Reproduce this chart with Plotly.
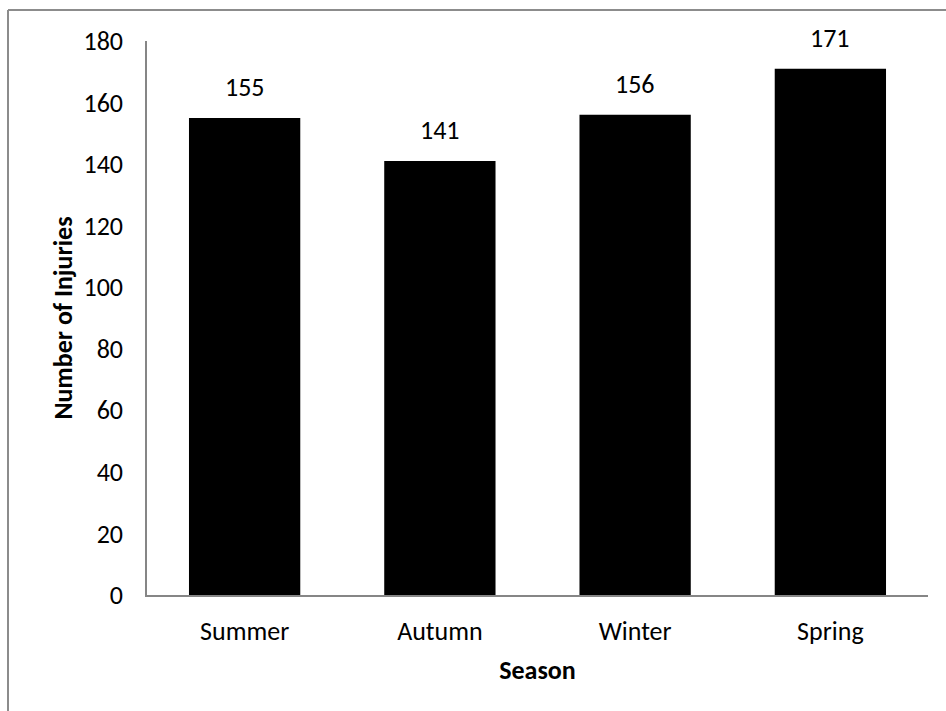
import plotly.graph_objects as go

seasons = ["Summer", "Autumn", "Winter", "Spring"]
injuries = [155, 141, 156, 171]
y_ticks = [0, 20, 40, 60, 80, 100, 120, 140, 160, 180]

FONT = "Calibri, Carlito, Lato, 'Open Sans', sans-serif"
AXIS_GREY = "#868686"
SIZE = 26

fig = go.Figure(
    go.Bar(
        x=seasons,
        y=injuries,
        marker=dict(color="#000000", line=dict(width=0)),
        width=0.57,
        hoverinfo="x+y",
    )
)

# value labels above each bar
for s, v in zip(seasons, injuries):
    fig.add_annotation(
        x=s, y=v, text=str(v), showarrow=False,
        yanchor="bottom", yshift=13,
        font=dict(family=FONT, size=SIZE, color="#000000"),
    )

fig.update_layout(
    width=946,
    height=711,
    margin=dict(l=147, r=18, t=41, b=116),
    paper_bgcolor="white",
    plot_bgcolor="white",
    font=dict(family=FONT, size=SIZE, color="#000000"),
    showlegend=False,
    xaxis=dict(
        showline=True,
        linecolor=AXIS_GREY,
        linewidth=1.5,
        ticks="",
        showgrid=False,
        ticklabelstandoff=12,
        tickfont=dict(family=FONT, size=SIZE),
        title=dict(text="<b>Season</b>", font=dict(family=FONT, size=SIZE), standoff=15),
        automargin=False,
    ),
    yaxis=dict(
        range=[0, 180],
        tickvals=y_ticks,
        showline=True,
        linecolor=AXIS_GREY,
        linewidth=1.5,
        ticks="",
        showgrid=False,
        zeroline=False,
        ticklabelstandoff=17,
        tickfont=dict(family=FONT, size=SIZE),
        title=dict(text="<b>Number of Injuries</b>", font=dict(family=FONT, size=SIZE), standoff=3),
        automargin=False,
    ),
)

# outer chart border (top and left edges)
bx = (8 - 147) / 781
by = (595 - 10) / 554
fig.add_shape(type="line", xref="paper", yref="paper", x0=bx, x1=bx, y0=-0.3, y1=by,
              line=dict(color="#8c8c8c", width=2))
fig.add_shape(type="line", xref="paper", yref="paper", x0=bx, x1=1.1, y0=by, y1=by,
              line=dict(color="#8c8c8c", width=2))

fig.write_html("out.html")
